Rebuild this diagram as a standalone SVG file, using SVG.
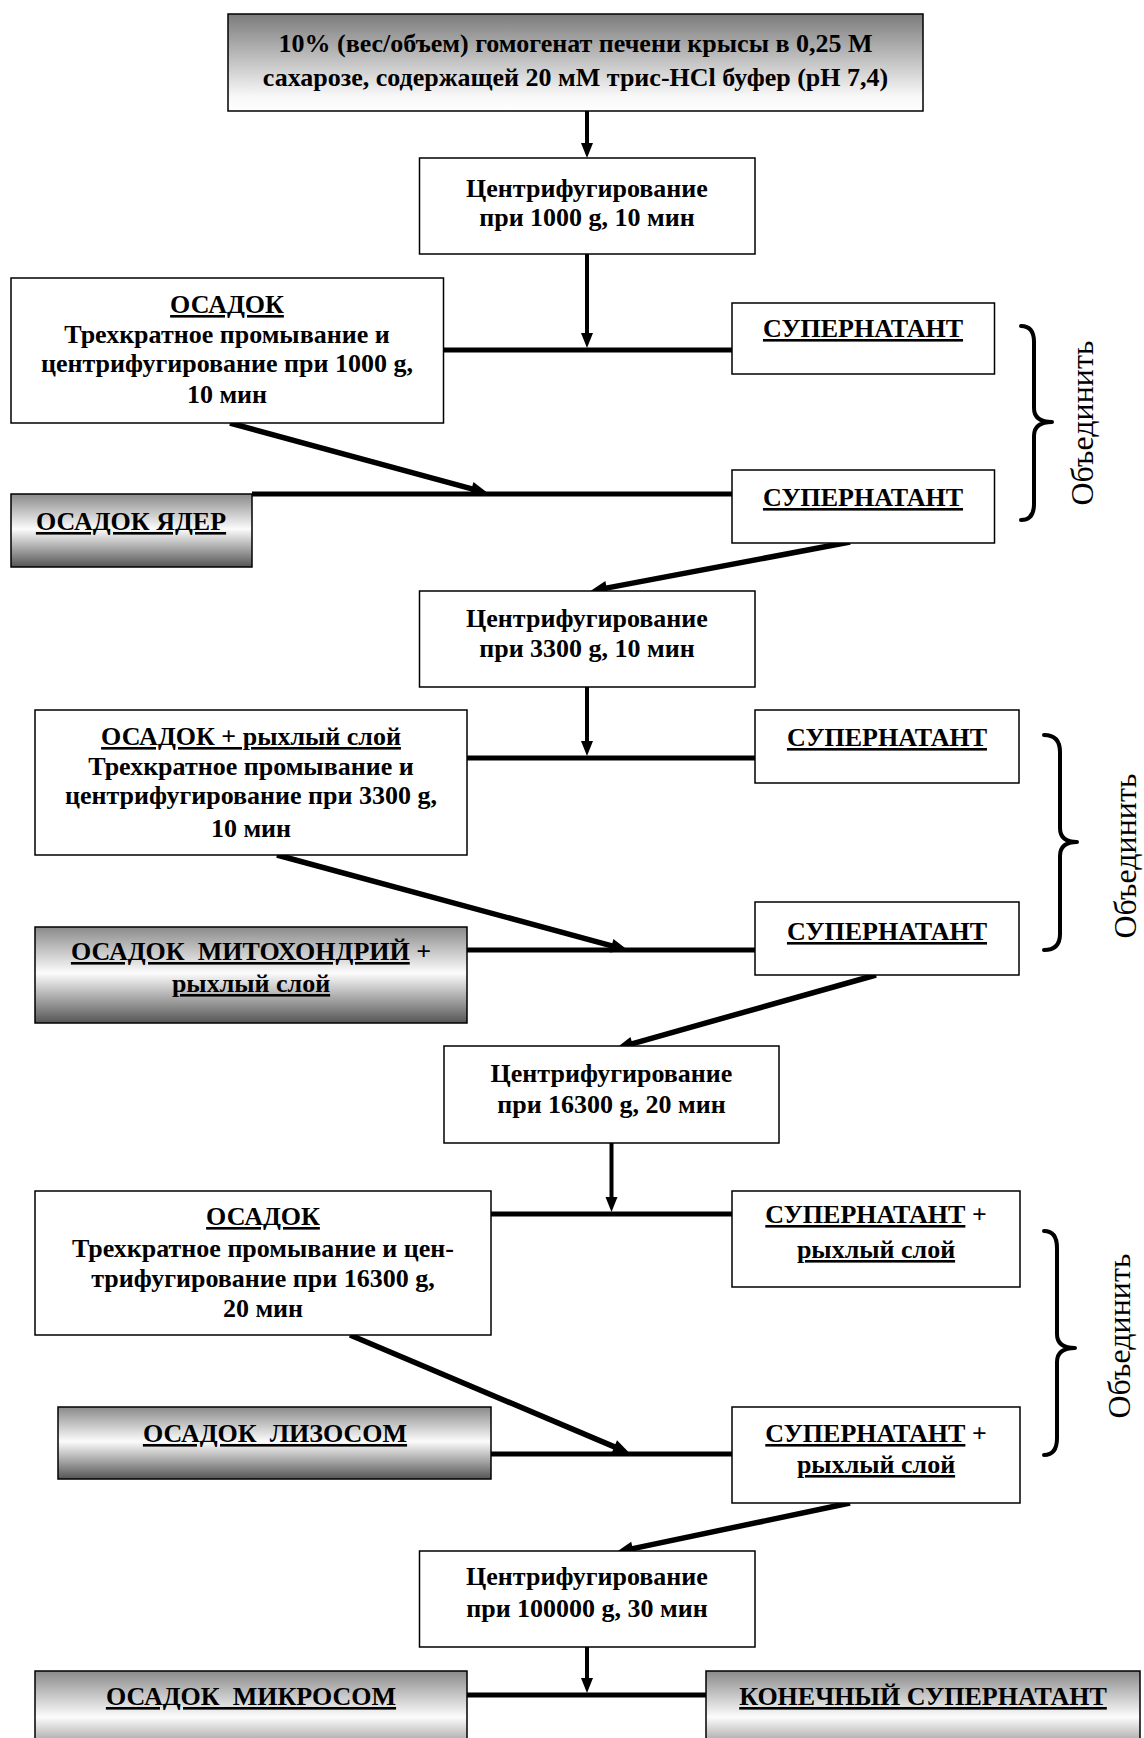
<svg xmlns="http://www.w3.org/2000/svg" width="1144" height="1738" viewBox="0 0 1144 1738">
<style>
.box{fill:#fff;stroke:#000;stroke-width:1.5}
.t{font-family:"Liberation Serif","Times New Roman",serif;font-weight:bold;font-size:26px;text-anchor:middle;fill:#000}
.u{text-decoration:underline;text-decoration-thickness:2.5px}
.br{fill:none;stroke:#000;stroke-width:4;stroke-linecap:round;stroke-linejoin:round}
.vt{font-family:"Liberation Serif","Times New Roman",serif;font-size:32px;text-anchor:middle;fill:#000}
.hl{stroke:#000;stroke-width:5;fill:none}
.vl{stroke:#000;stroke-width:4;fill:none}
.dl{stroke:#000;stroke-width:5.5;fill:none}
</style>
<defs>
<linearGradient id="gTop" x1="0" y1="0" x2="0" y2="1">
<stop offset="0" stop-color="#7c7c7c"/>
<stop offset="0.85" stop-color="#f8f8f8"/>
<stop offset="1" stop-color="#ffffff"/>
</linearGradient>
<linearGradient id="gDark" x1="0" y1="0" x2="0" y2="1">
<stop offset="0" stop-color="#8a8a8a"/>
<stop offset="0.48" stop-color="#fcfcfc"/>
<stop offset="1" stop-color="#555555"/>
</linearGradient>
<marker id="ad" markerUnits="userSpaceOnUse" markerWidth="20" markerHeight="20" refX="6" refY="10" orient="auto" overflow="visible">
<path d="M0,3 L17,10 L0,17 Z" fill="#000"/>
</marker>
<marker id="av" markerUnits="userSpaceOnUse" markerWidth="20" markerHeight="20" refX="5" refY="10" orient="auto" overflow="visible">
<path d="M0,4 L15,10 L0,16 Z" fill="#000"/>
</marker>
</defs>

<g id="connectors">
<line class="vl" x1="587" y1="111" x2="587" y2="148" marker-end="url(#av)"/>
<line class="vl" x1="587" y1="254" x2="587" y2="338" marker-end="url(#av)"/>
<line class="hl" x1="443" y1="350" x2="732" y2="350"/>
<line class="dl" x1="230" y1="423" x2="477.4" y2="490.4" marker-end="url(#ad)"/>
<line class="hl" x1="252" y1="494" x2="732" y2="494"/>
<line class="dl" x1="850" y1="542" x2="600.8" y2="589.1" marker-end="url(#ad)"/>
<line class="vl" x1="587" y1="687" x2="587" y2="746" marker-end="url(#av)"/>
<line class="hl" x1="467" y1="758" x2="755" y2="758"/>
<line class="dl" x1="277" y1="855" x2="617.4" y2="947.4" marker-end="url(#ad)"/>
<line class="hl" x1="467" y1="950" x2="755" y2="950"/>
<line class="dl" x1="876" y1="975" x2="626.6" y2="1045.3" marker-end="url(#ad)"/>
<line class="vl" x1="611.5" y1="1143" x2="611.5" y2="1202" marker-end="url(#av)"/>
<line class="hl" x1="491" y1="1214" x2="732" y2="1214"/>
<line class="dl" x1="350" y1="1335" x2="619.8" y2="1449.1" marker-end="url(#ad)"/>
<line class="hl" x1="491" y1="1454" x2="732" y2="1454"/>
<line class="dl" x1="850" y1="1503" x2="626.8" y2="1549.9" marker-end="url(#ad)"/>
<line class="vl" x1="587" y1="1647" x2="587" y2="1683" marker-end="url(#av)"/>
<line class="hl" x1="467" y1="1695" x2="706" y2="1695"/>
</g>

<g id="n-homogenate">
<rect x="228" y="14" width="695" height="97" fill="url(#gTop)" stroke="#000" stroke-width="1.5"/>
<text class="t" x="575.5" y="52">10% (вес/объем) гомогенат печени крысы в 0,25 М</text>
<text class="t" x="575.5" y="86">сахарозе, содержащей 20 мМ трис-HCl буфер (pH 7,4)</text>
</g>

<g id="n-cf1000">
<rect class="box" x="419.5" y="158" width="335.5" height="96"/>
<text class="t" x="587" y="197">Центрифугирование</text>
<text class="t" x="587" y="226">при 1000 g, 10 мин</text>
</g>

<g id="n-pellet1">
<rect class="box" x="11" y="278" width="432.5" height="145"/>
<text class="t u" x="227" y="313">ОСАДОК</text>
<text class="t" x="227" y="343">Трехкратное промывание и</text>
<text class="t" x="227" y="372">центрифугирование при 1000 g,</text>
<text class="t" x="227" y="403">10 мин</text>
</g>

<g id="n-super1">
<rect class="box" x="732" y="303" width="262.5" height="71"/>
<text class="t u" x="863" y="337">СУПЕРНАТАНТ</text>
</g>

<g id="n-nuclei">
<rect x="11" y="494" width="241" height="73" fill="url(#gDark)" stroke="#000" stroke-width="1.5"/>
<text class="t u" x="131" y="530">ОСАДОК ЯДЕР</text>
</g>

<g id="n-super2">
<rect class="box" x="732" y="470" width="262.5" height="73"/>
<text class="t u" x="863" y="506">СУПЕРНАТАНТ</text>
</g>

<g id="n-cf3300">
<rect class="box" x="419.5" y="591" width="335.5" height="96"/>
<text class="t" x="587" y="627">Центрифугирование</text>
<text class="t" x="587" y="657">при 3300 g, 10 мин</text>
</g>

<g id="n-pellet2">
<rect class="box" x="35" y="710" width="432" height="145"/>
<text class="t" x="251" y="745"><tspan class="u">ОСАДОК + рыхлый слой</tspan></text>
<text class="t" x="251" y="775">Трехкратное промывание и</text>
<text class="t" x="251" y="804">центрифугирование при 3300 g,</text>
<text class="t" x="251" y="837">10 мин</text>
</g>

<g id="n-super3">
<rect class="box" x="755" y="710" width="264" height="73"/>
<text class="t u" x="887" y="746">СУПЕРНАТАНТ</text>
</g>

<g id="n-mito">
<rect x="35" y="927" width="432" height="96" fill="url(#gDark)" stroke="#000" stroke-width="1.5"/>
<text class="t" x="251" y="960" xml:space="preserve"><tspan class="u">ОСАДОК  МИТОХОНДРИЙ</tspan> +</text>
<text class="t" x="251" y="992"><tspan class="u">рыхлый слой</tspan></text>
</g>

<g id="n-super4">
<rect class="box" x="755" y="902" width="264" height="73"/>
<text class="t u" x="887" y="940">СУПЕРНАТАНТ</text>
</g>

<g id="n-cf16300">
<rect class="box" x="444" y="1046" width="335" height="97"/>
<text class="t" x="611.5" y="1082">Центрифугирование</text>
<text class="t" x="611.5" y="1113">при 16300 g, 20 мин</text>
</g>

<g id="n-pellet3">
<rect class="box" x="35" y="1191" width="456" height="144"/>
<text class="t u" x="263" y="1225">ОСАДОК</text>
<text class="t" x="263" y="1257">Трехкратное промывание и цен-</text>
<text class="t" x="263" y="1287">трифугирование при 16300 g,</text>
<text class="t" x="263" y="1317">20 мин</text>
</g>

<g id="n-super5">
<rect class="box" x="732" y="1191" width="288" height="96"/>
<text class="t" x="876" y="1223"><tspan class="u">СУПЕРНАТАНТ</tspan> +</text>
<text class="t" x="876" y="1258"><tspan class="u">рыхлый слой</tspan></text>
</g>

<g id="n-lyso">
<rect x="58" y="1407" width="433" height="72" fill="url(#gDark)" stroke="#000" stroke-width="1.5"/>
<text class="t" x="275" y="1442" xml:space="preserve"><tspan class="u">ОСАДОК  ЛИЗОСОМ</tspan></text>
</g>

<g id="n-super6">
<rect class="box" x="732" y="1407" width="288" height="96"/>
<text class="t" x="876" y="1442"><tspan class="u">СУПЕРНАТАНТ</tspan> +</text>
<text class="t" x="876" y="1473"><tspan class="u">рыхлый слой</tspan></text>
</g>

<g id="n-cf100000">
<rect class="box" x="419.5" y="1551" width="335.5" height="96"/>
<text class="t" x="587" y="1585">Центрифугирование</text>
<text class="t" x="587" y="1617">при 100000 g, 30 мин</text>
</g>

<g id="n-micro">
<rect x="35" y="1671" width="432" height="96" fill="url(#gDark)" stroke="#000" stroke-width="1.5"/>
<text class="t" x="251" y="1705" xml:space="preserve"><tspan class="u">ОСАДОК  МИКРОСОМ</tspan></text>
</g>

<g id="n-final">
<rect x="706" y="1671" width="434" height="96" fill="url(#gDark)" stroke="#000" stroke-width="1.5"/>
<text class="t u" x="923" y="1705">КОНЕЧНЫЙ СУПЕРНАТАНТ</text>
</g>

<g id="brace1">
<path class="br" d="M1021,326 Q1034,326 1034,342 L1034,408 Q1034,422 1052,422 Q1034,422 1034,436 L1034,504 Q1034,520 1021,520"/>
<text class="vt" transform="translate(1093,423) rotate(-90)">Объединить</text>
</g>

<g id="brace2">
<path class="br" d="M1044,735 Q1060,735 1060,752 L1060,828 Q1060,842 1077,842 Q1060,842 1060,856 L1060,934 Q1060,950 1044,950"/>
<text class="vt" transform="translate(1136,856) rotate(-90)">Объединить</text>
</g>

<g id="brace3">
<path class="br" d="M1044,1231 Q1057,1231 1057,1248 L1057,1334 Q1057,1348 1075,1348 Q1057,1348 1057,1362 L1057,1438 Q1057,1455 1044,1455"/>
<text class="vt" transform="translate(1130,1336) rotate(-90)">Объединить</text>
</g>
</svg>
